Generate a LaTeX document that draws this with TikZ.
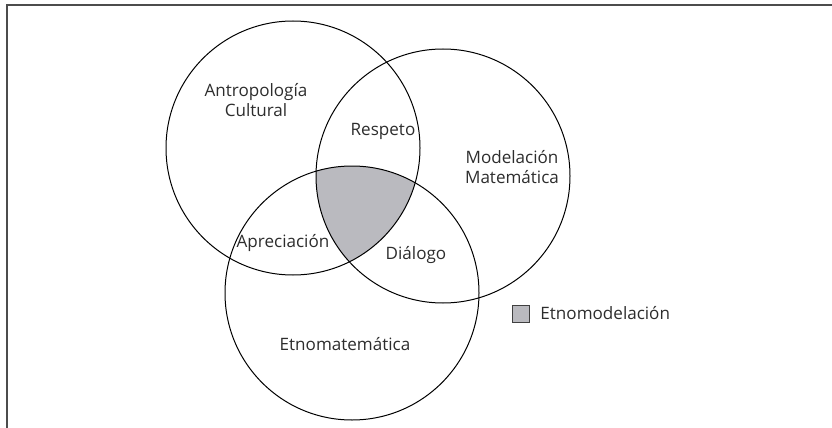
\documentclass[tikz,border=0pt]{standalone}
\usepackage{fontspec}
\setmainfont{Open Sans}
\usetikzlibrary{positioning}
\definecolor{etnogray}{RGB}{186,186,191}
\definecolor{txtgray}{RGB}{45,45,45}
\tikzset{
  venn/.style={shape=circle,draw=black,line width=0.75pt,minimum size=190.5pt,inner sep=0pt},
  lbl/.style={align=center,text=txtgray,font=\fontsize{12.8}{15}\selectfont}
}
\begin{document}
\begin{tikzpicture}[x=0.75pt,y=-0.75pt]
  \useasboundingbox (0,0) rectangle (832,428);
  % frame
  \coordinate (fr) at (832,5);
  \coordinate (fc) at (7,5);
  \coordinate (fb) at (7,428);
  \draw[line width=1.2pt,draw=black!70] (fr) -- (fc) -- (fb);

  % shared part of the three circles
  \begin{scope}
    \clip (293,148) circle[radius=127];
    \clip (443,176) circle[radius=127];
    \fill[etnogray] (352,293) circle[radius=127];
  \end{scope}

  \node[venn] (A) at (293,148) {};
  \node[venn] (M) at (443,176) {};
  \node[venn] (E) at (352,293) {};

  \node[lbl] (antro) at (256,100) {Antropología\\Cultural};
  \node[lbl] (resp) at (383,131) {Respeto};
  \node[lbl] (model) at (512,167) {Modelación\\Matemática};
  \node[lbl] (apre) at (283,243) {Apreciación};
  \node[lbl] (dial) at (416,255) {Diálogo};
  \node[lbl] (etnomat) at (345,344) {Etnomatemática};

  % legend
  \node[draw=black!75,fill=etnogray,minimum size=12.5pt,inner sep=0pt] (key) at (520.5,313.5) {};
  \node[lbl,right=5pt of key] (keytxt) {Etnomodelación};
\end{tikzpicture}
\end{document}
